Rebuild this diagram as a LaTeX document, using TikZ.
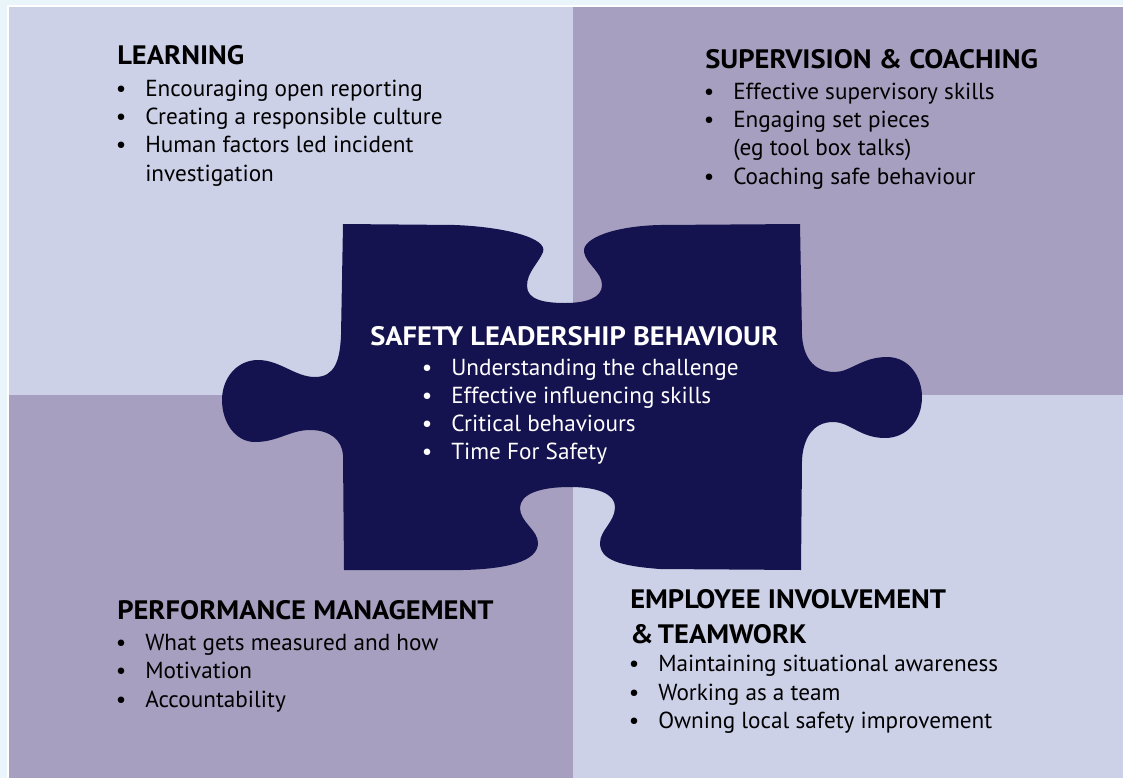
\documentclass[tikz,border=0pt]{standalone}
\usepackage{fontspec}
\setmainfont{PT Sans}
\newfontfamily\headfont[FakeStretch=1.07]{PT Sans}
\definecolor{frame}{HTML}{EAF4FB}
\definecolor{quadlight}{HTML}{CCD1E8}
\definecolor{quaddark}{HTML}{A69FBF}
\definecolor{piece}{HTML}{15134F}
\tikzset{
  bodytext/.style={anchor=base west, inner sep=0pt, font=\fontsize{17.4}{21}\selectfont},
  headtext/.style={anchor=base west, inner sep=0pt, font=\headfont\bfseries\fontsize{20}{24}\selectfont},
  bulletdot/.style={anchor=base, inner sep=0pt, font=\fontsize{17.4}{21}\selectfont},
  onpiece/.style={text=white},
}
\begin{document}
\begin{tikzpicture}[x=0.75pt,y=-0.75pt]
\useasboundingbox (0,0) rectangle (1123,778);
% outer frame
\fill[frame] (0,0) rectangle (1123,778);
\draw[white,line width=1.5pt] (7.5,6) rectangle (1130,785);
% four quadrants
\fill[quadlight] (9,7) rectangle (573,395);
\fill[quaddark] (573,7) rectangle (1123,395);
\fill[quaddark] (9,395) rectangle (573,778);
\fill[quadlight] (573,395) rectangle (1123,778);

% central puzzle piece
\fill[piece]
  (343,224) -- (455,225)
  .. controls (505,227) and (548,238) .. (543,252)
  .. controls (538,264) and (527,272) .. (527,286)
  .. controls (527,300) and (545,303) .. (565,303)
  .. controls (586,303) and (602,298) .. (602,285)
  .. controls (602,272) and (586,264) .. (584,252)
  .. controls (582,238) and (615,226) .. (660,225)
  -- (800,224) -- (802,335)
  .. controls (803,355) and (812,372) .. (835,372)
  .. controls (850,372) and (862,357) .. (887,357)
  .. controls (910,357) and (922,378) .. (922,397)
  .. controls (922,420) and (907,438) .. (885,438)
  .. controls (860,438) and (850,422) .. (833,422)
  .. controls (812,422) and (803,440) .. (802,460)
  -- (801,570) -- (660,569)
  .. controls (620,566) and (600,560) .. (600,543)
  .. controls (600,530) and (615,522) .. (615,507)
  .. controls (615,494) and (598,487) .. (570,487)
  .. controls (540,487) and (520,494) .. (520,508)
  .. controls (520,522) and (538,530) .. (538,543)
  .. controls (538,562) and (505,569) .. (463,570)
  -- (344,570) -- (343,455)
  .. controls (342,440) and (330,430) .. (310,430)
  .. controls (290,430) and (278,442) .. (255,442)
  .. controls (235,442) and (222,422) .. (222,400)
  .. controls (222,378) and (237,360) .. (258,360)
  .. controls (280,360) and (295,377) .. (315,377)
  .. controls (335,377) and (340,360) .. (341,335)
  -- cycle;

% LEARNING
\node[headtext] (learnH) at (117,64) {LEARNING};
\node[bulletdot] (learnB1) at (121,96) {•};
\node[bodytext] (learn1) at (145,96) {Encouraging open reporting};
\node[bulletdot] (learnB2) at (121,124.3) {•};
\node[bodytext] (learn2) at (145,124.3) {Creating a responsible culture};
\node[bulletdot] (learnB3) at (121,152.5) {•};
\node[bodytext] (learn3) at (145,152.5) {Human factors led incident};
\node[bodytext] (learn4) at (145,181) {investigation};

% SUPERVISION & COACHING
\node[headtext] (supH) at (705,68) {SUPERVISION \& COACHING};
\node[bulletdot] (supB1) at (709,99) {•};
\node[bodytext] (sup1) at (733,99) {Effective supervisory skills};
\node[bulletdot] (supB2) at (709,127.3) {•};
\node[bodytext] (sup2) at (733,127.3) {Engaging set pieces};
\node[bodytext] (sup3) at (733,155.5) {(eg tool box talks)};
\node[bulletdot] (supB3) at (709,184) {•};
\node[bodytext] (sup4) at (733,184) {Coaching safe behaviour};

% SAFETY LEADERSHIP BEHAVIOUR
\node[headtext,onpiece] (slbH) at (370,345) {SAFETY LEADERSHIP BEHAVIOUR};
\node[bulletdot,onpiece] (slbB1) at (427,375) {•};
\node[bodytext,onpiece] (slb1) at (451,375) {Understanding the challenge};
\node[bulletdot,onpiece] (slbB2) at (427,403.3) {•};
\node[bodytext,onpiece] (slb2) at (451,403.3) {Effective influencing skills};
\node[bulletdot,onpiece] (slbB3) at (427,431) {•};
\node[bodytext,onpiece] (slb3) at (451,431) {Critical behaviours};
\node[bulletdot,onpiece] (slbB4) at (427,459) {•};
\node[bodytext,onpiece] (slb4) at (451,459) {Time For Safety};

% PERFORMANCE MANAGEMENT
\node[headtext] (perfH) at (117,619) {PERFORMANCE MANAGEMENT};
\node[bulletdot] (perfB1) at (121,650) {•};
\node[bodytext] (perf1) at (145,650) {What gets measured and how};
\node[bulletdot] (perfB2) at (121,678.5) {•};
\node[bodytext] (perf2) at (145,678.5) {Motivation};
\node[bulletdot] (perfB3) at (121,707) {•};
\node[bodytext] (perf3) at (145,707) {Accountability};

% EMPLOYEE INVOLVEMENT & TEAMWORK
\node[headtext] (empH1) at (630,608) {EMPLOYEE INVOLVEMENT};
\node[headtext] (empH2) at (630,643) {\&\,TEAMWORK};
\node[bulletdot] (empB1) at (634,671.7) {•};
\node[bodytext] (emp1) at (658,671.7) {Maintaining situational awareness};
\node[bulletdot] (empB2) at (634,700) {•};
\node[bodytext] (emp2) at (658,700) {Working as a team};
\node[bulletdot] (empB3) at (634,728) {•};
\node[bodytext] (emp3) at (658,728) {Owning local safety improvement};
\end{tikzpicture}
\end{document}
